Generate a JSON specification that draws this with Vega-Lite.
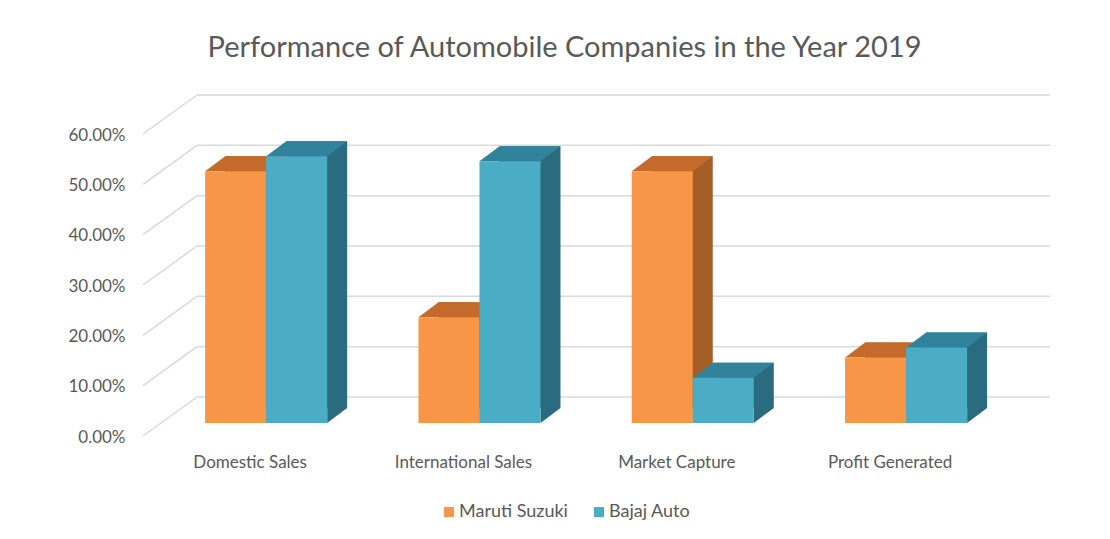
{
  "$schema": "https://vega.github.io/schema/vega-lite/v6.json",
  "width": 907,
  "height": 302,
  "autosize": "none",
  "padding": {"left": 143, "top": 121, "right": 60, "bottom": 116},
  "background": "white",
  "config": {"view": {"stroke": null}, "font": "Lato"},
  "title": {"text": "Performance of Automobile Companies in the Year 2019", "anchor": "middle", "frame": "group", "dx": -32, "fontSize": 29, "fontWeight": "normal", "color": "#595959", "font": "Lato", "offset": 31},
  "resolve": {"scale": {"xOffset": "independent"}},
  "data": {"values": [
    {"category": "Domestic Sales", "company": "Maruti Suzuki", "value": 0.50},
    {"category": "Domestic Sales", "company": "Bajaj Auto", "value": 0.53},
    {"category": "International Sales", "company": "Maruti Suzuki", "value": 0.21},
    {"category": "International Sales", "company": "Bajaj Auto", "value": 0.52},
    {"category": "Market Capture", "company": "Maruti Suzuki", "value": 0.50},
    {"category": "Market Capture", "company": "Bajaj Auto", "value": 0.09},
    {"category": "Profit Generated", "company": "Maruti Suzuki", "value": 0.13},
    {"category": "Profit Generated", "company": "Bajaj Auto", "value": 0.15}
  ]},
  "layer": [
    {
      "data": {"values": [{"t": 0}, {"t": 0.1}, {"t": 0.2}, {"t": 0.3}, {"t": 0.4}, {"t": 0.5}, {"t": 0.6}]},
      "mark": {"type": "rule", "color": "#d9d9d9", "strokeWidth": 1.5, "yOffset": -26},
      "encoding": {
        "y": {"field": "t", "type": "quantitative", "scale": {"domain": [0, 0.6], "nice": false},
          "axis": {"title": null, "format": ".2%", "values": [0, 0.1, 0.2, 0.3, 0.4, 0.5, 0.6], "domain": false, "ticks": false, "grid": false, "labelOffset": 14, "labelPadding": 18, "labelFontSize": 17, "labelColor": "#595959", "labelFont": "Lato"}},
        "x": {"value": 54},
        "x2": {"value": 907}
      }
    },
    {
      "data": {"values": [{"t": 0}, {"t": 0.1}, {"t": 0.2}, {"t": 0.3}, {"t": 0.4}, {"t": 0.5}, {"t": 0.6}]},
      "mark": {"type": "rule", "color": "#d9d9d9", "strokeWidth": 1.5, "yOffset": 13, "y2Offset": -26},
      "encoding": {
        "y": {"field": "t", "type": "quantitative"},
        "y2": {"field": "t"},
        "x": {"value": 0},
        "x2": {"value": 54}
      }
    },
    {
      "transform": [{"filter": "datum.company === 'Maruti Suzuki'"}],
      "mark": {"type": "bar", "color": "#A45F27", "yOffset": -15, "y2Offset": -15},
      "encoding": {
        "x": {"field": "category", "type": "nominal", "sort": ["Domestic Sales", "International Sales", "Market Capture", "Profit Generated"], "scale": {"paddingInner": 0, "paddingOuter": 0.126, "align": 0.307},
          "axis": {"title": null, "domain": false, "ticks": false, "labelAngle": 0, "labelOffset": -16, "labelPadding": 31, "labelFontSize": 17, "labelColor": "#595959", "labelFont": "Lato"}},
        "xOffset": {"field": "company", "type": "nominal", "scale": {"type": "band", "domain": ["Maruti Suzuki", "Bajaj Auto"], "paddingInner": 0, "paddingOuter": 0.748, "align": 0.719}},
        "y": {"field": "value", "type": "quantitative"}
      }
    },
    {
      "transform": [{"filter": "datum.company === 'Maruti Suzuki'"}],
      "mark": {"type": "point", "shape": "M0.61,0L0.61,-0.3L1.01,-0.3Z", "size": 10000, "filled": true, "opacity": 1, "color": "#A45F27", "strokeWidth": 0},
      "encoding": {
        "x": {"field": "category", "type": "nominal", "sort": ["Domestic Sales", "International Sales", "Market Capture", "Profit Generated"]},
        "xOffset": {"field": "company", "type": "nominal", "scale": {"type": "band", "domain": ["Maruti Suzuki", "Bajaj Auto"], "paddingInner": 0, "paddingOuter": 0.748}},
        "y": {"datum": 0}
      }
    },
    {
      "transform": [{"filter": "datum.company === 'Maruti Suzuki'"}],
      "mark": {"type": "point", "shape": "M-0.61,0L0.61,0L1.01,-0.3L-0.21,-0.3Z", "size": 10000, "filled": true, "opacity": 1, "color": "#C46A2A", "strokeWidth": 0},
      "encoding": {
        "x": {"field": "category", "type": "nominal", "sort": ["Domestic Sales", "International Sales", "Market Capture", "Profit Generated"]},
        "xOffset": {"field": "company", "type": "nominal", "scale": {"type": "band", "domain": ["Maruti Suzuki", "Bajaj Auto"], "paddingInner": 0, "paddingOuter": 0.748}},
        "y": {"field": "value", "type": "quantitative"}
      }
    },
    {
      "transform": [{"filter": "datum.company === 'Maruti Suzuki'"}],
      "mark": {"type": "bar"},
      "encoding": {
        "x": {"field": "category", "type": "nominal", "sort": ["Domestic Sales", "International Sales", "Market Capture", "Profit Generated"]},
        "xOffset": {"field": "company", "type": "nominal", "scale": {"type": "band", "domain": ["Maruti Suzuki", "Bajaj Auto"], "paddingInner": 0, "paddingOuter": 0.748}},
        "y": {"field": "value", "type": "quantitative"},
        "color": {"field": "company", "type": "nominal", "scale": {"domain": ["Maruti Suzuki", "Bajaj Auto"], "range": ["#F79646", "#4BACC6"]},
          "legend": {"title": null, "orient": "none", "direction": "horizontal", "legendX": 297, "legendY": 382, "padding": 0, "symbolType": "square", "symbolSize": 100, "symbolStrokeWidth": 0, "labelFontSize": 18, "labelColor": "#595959", "labelFont": "Lato", "labelOffset": 1, "columnPadding": 22}}
      }
    },
    {
      "transform": [{"filter": "datum.company === 'Bajaj Auto'"}],
      "mark": {"type": "bar", "color": "#2B6B80", "yOffset": -15, "y2Offset": -15},
      "encoding": {
        "x": {"field": "category", "type": "nominal", "sort": ["Domestic Sales", "International Sales", "Market Capture", "Profit Generated"]},
        "xOffset": {"field": "company", "type": "nominal", "scale": {"type": "band", "domain": ["Maruti Suzuki", "Bajaj Auto"], "paddingInner": 0, "paddingOuter": 0.748, "align": 0.719}},
        "y": {"field": "value", "type": "quantitative"}
      }
    },
    {
      "transform": [{"filter": "datum.company === 'Bajaj Auto'"}],
      "mark": {"type": "point", "shape": "M0.61,0L0.61,-0.3L1.01,-0.3Z", "size": 10000, "filled": true, "opacity": 1, "color": "#2B6B80", "strokeWidth": 0},
      "encoding": {
        "x": {"field": "category", "type": "nominal", "sort": ["Domestic Sales", "International Sales", "Market Capture", "Profit Generated"]},
        "xOffset": {"field": "company", "type": "nominal", "scale": {"type": "band", "domain": ["Maruti Suzuki", "Bajaj Auto"], "paddingInner": 0, "paddingOuter": 0.748}},
        "y": {"datum": 0}
      }
    },
    {
      "transform": [{"filter": "datum.company === 'Bajaj Auto'"}],
      "mark": {"type": "point", "shape": "M-0.61,0L0.61,0L1.01,-0.3L-0.21,-0.3Z", "size": 10000, "filled": true, "opacity": 1, "color": "#31839B", "strokeWidth": 0},
      "encoding": {
        "x": {"field": "category", "type": "nominal", "sort": ["Domestic Sales", "International Sales", "Market Capture", "Profit Generated"]},
        "xOffset": {"field": "company", "type": "nominal", "scale": {"type": "band", "domain": ["Maruti Suzuki", "Bajaj Auto"], "paddingInner": 0, "paddingOuter": 0.748}},
        "y": {"field": "value", "type": "quantitative"}
      }
    },
    {
      "transform": [{"filter": "datum.company === 'Bajaj Auto'"}],
      "mark": {"type": "bar"},
      "encoding": {
        "x": {"field": "category", "type": "nominal", "sort": ["Domestic Sales", "International Sales", "Market Capture", "Profit Generated"]},
        "xOffset": {"field": "company", "type": "nominal", "scale": {"type": "band", "domain": ["Maruti Suzuki", "Bajaj Auto"], "paddingInner": 0, "paddingOuter": 0.748}},
        "y": {"field": "value", "type": "quantitative"},
        "color": {"field": "company", "type": "nominal"}
      }
    }
  ]
}
